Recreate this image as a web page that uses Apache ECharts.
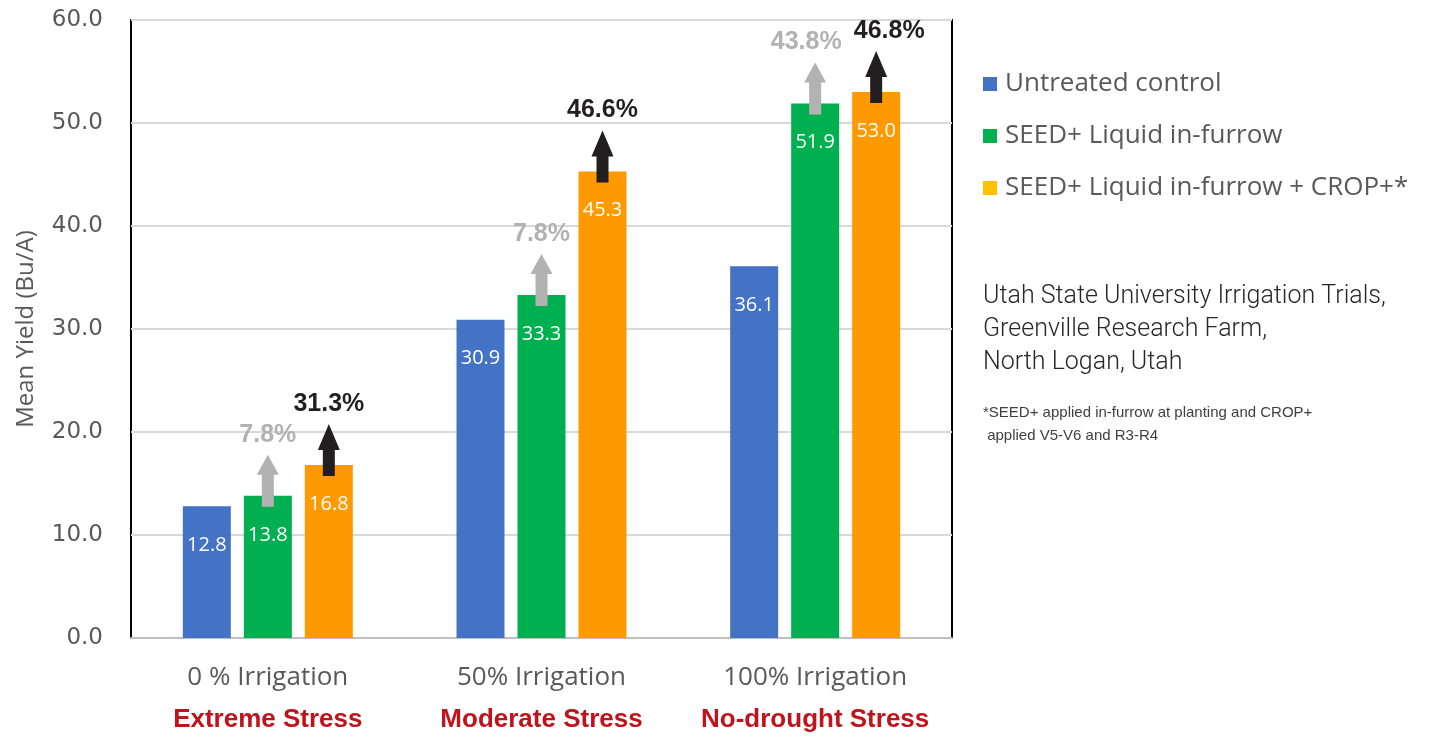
<!DOCTYPE html>
<html>
<head>
<meta charset="utf-8">
<script src="https://cdn.jsdelivr.net/npm/echarts@6/dist/echarts.min.js"></script>
<style>
  html, body { margin: 0; padding: 0; background: #fff; }
  #chart { width: 1434px; height: 736px; }
</style>
</head>
<body>
<div id="chart"></div>
<script>
// categories and stress subtitles
var categories = ['0 % Irrigation', '50% Irrigation', '100% Irrigation'];
var stressLabels = ['Extreme Stress', 'Moderate Stress', 'No-drought Stress'];

var seriesNames = ['Untreated control', 'SEED+ Liquid in-furrow', 'SEED+ Liquid in-furrow + CROP+*'];
var untreated = [12.8, 30.9, 36.1];
var seedLiquid = [13.8, 33.3, 51.9];
var seedCrop = [16.8, 45.3, 53.0];

// yield increase over untreated
var seedPct = ['7.8%', '7.8%', '43.8%'];
var cropPct = ['31.3%', '46.6%', '46.8%'];

var yTicks = { min: 0, max: 60, interval: 10 };

var BAR_W = 48;
var GAP_PX = 13;
// horizontal nudge of the % labels so the last pair doesn't collide
var seedNudge = [0, 0, -9];
var cropNudge = [0, 0, 13];

var chart = echarts.init(document.getElementById('chart'));

function arrowItem(offsetPx, color, labels, nudge, headH) {
  return function (params, api) {
    var p = api.coord([api.value(0), api.value(1)]);
    var x = p[0] + offsetPx;
    var bottom = p[1] + 11;
    var tip = p[1] - 41;
    var headBase = tip + headH;
    var sw = 6, hw = 11;
    return {
      type: 'group',
      children: [{
        type: 'polygon',
        shape: {
          points: [
            [x - sw, bottom], [x - sw, headBase], [x - hw, headBase],
            [x, tip], [x + hw, headBase], [x + sw, headBase], [x + sw, bottom]
          ]
        },
        style: { fill: color }
      }, {
        type: 'text',
        x: x + nudge[params.dataIndex],
        y: tip - 20,
        style: {
          text: labels[params.dataIndex],
          fill: color,
          font: 'bold 25px "Liberation Sans", Arial, sans-serif',
          align: 'center',
          verticalAlign: 'middle'
        }
      }]
    };
  };
}

var barLabel = {
  show: true,
  position: 'insideTop',
  distance: 29,
  color: '#fff',
  fontSize: 20,
  fontFamily: 'Open Sans',
  formatter: function (p) { return p.value.toFixed(1); }
};

var option = {
  animation: false,
  grid: {
    left: 131, top: 20, right: 482, bottom: 98,
    outerBoundsMode: 'none',
    show: true, borderColor: '#000', borderWidth: 2, backgroundColor: 'transparent'
  },
  legend: {
    data: [
      { name: seriesNames[0], itemStyle: { color: '#4472c4' } },
      { name: seriesNames[1], itemStyle: { color: '#00b050' } },
      { name: seriesNames[2], itemStyle: { color: '#ffc000' } }
    ],
    orient: 'vertical',
    left: 978,
    top: 62,
    icon: 'rect',
    itemWidth: 14,
    itemHeight: 14,
    itemGap: 18,
    textStyle: { fontSize: 26, lineHeight: 34, color: '#595959', fontFamily: 'Open Sans', padding: [0, 0, 0, 3] }
  },
  xAxis: {
    type: 'category',
    data: categories,
    axisLine: { lineStyle: { color: '#bfbfbf', width: 2 } },
    axisTick: { show: false },
    axisLabel: {
      margin: 19,
      formatter: function (v, i) { return '{a|' + v + '}\n{b|' + stressLabels[i] + '}'; },
      rich: {
        a: { fontSize: 26, color: '#595959', fontFamily: 'Open Sans', lineHeight: 42 },
        b: { fontSize: 26, color: '#c0141c', fontWeight: 'bold', fontFamily: '"Liberation Sans", Arial', lineHeight: 42 }
      }
    }
  },
  yAxis: {
    type: 'value',
    min: yTicks.min,
    max: yTicks.max,
    interval: yTicks.interval,
    name: 'Mean Yield (Bu/A)',
    nameLocation: 'middle',
    nameGap: 93,
    nameTextStyle: { fontSize: 24, color: '#595959', fontFamily: 'Open Sans' },
    axisLine: { show: false },
    axisTick: { show: false },
    axisLabel: {
      margin: 28,
      fontSize: 23,
      color: '#595959',
      fontFamily: 'DejaVu Sans',
      formatter: function (v) { return v.toFixed(1); }
    },
    splitLine: { lineStyle: { color: '#d9d9d9', width: 2 } }
  },
  series: [
    { name: seriesNames[0], type: 'bar', data: untreated, barWidth: BAR_W,
      barGap: (GAP_PX / BAR_W * 100) + '%', itemStyle: { color: '#4472c4' }, label: barLabel },
    { name: seriesNames[1], type: 'bar', data: seedLiquid, barWidth: BAR_W,
      barGap: (GAP_PX / BAR_W * 100) + '%', itemStyle: { color: '#00b050' }, label: barLabel },
    { name: seriesNames[2], type: 'bar', data: seedCrop, barWidth: BAR_W,
      barGap: (GAP_PX / BAR_W * 100) + '%', itemStyle: { color: '#ff9900' }, label: barLabel },
    { type: 'custom', z: 5,
      renderItem: arrowItem(0, '#b2b2b2', seedPct, seedNudge, 20),
      data: seedLiquid.map(function (v, i) { return [i, v]; }),
      encode: { x: 0, y: 1 } },
    { type: 'custom', z: 5,
      renderItem: arrowItem(BAR_W + GAP_PX, '#231f20', cropPct, cropNudge, 26),
      data: seedCrop.map(function (v, i) { return [i, v]; }),
      encode: { x: 0, y: 1 } }
  ],
  graphic: [
    { type: 'text', left: 983, top: 280,
      style: { text: 'Utah State University Irrigation Trials,\nGreenville Research Farm,\nNorth Logan, Utah',
        font: '300 25px Roboto, sans-serif', fill: '#262626', lineHeight: 33 } },
    { type: 'text', left: 983, top: 401,
      style: { text: '*SEED+ applied in-furrow at planting and CROP+\n applied V5-V6 and R3-R4',
        font: '15px "Liberation Sans", Arial, sans-serif', fill: '#404040', lineHeight: 23 } }
  ]
};

chart.setOption(option);
</script>
</body>
</html>
